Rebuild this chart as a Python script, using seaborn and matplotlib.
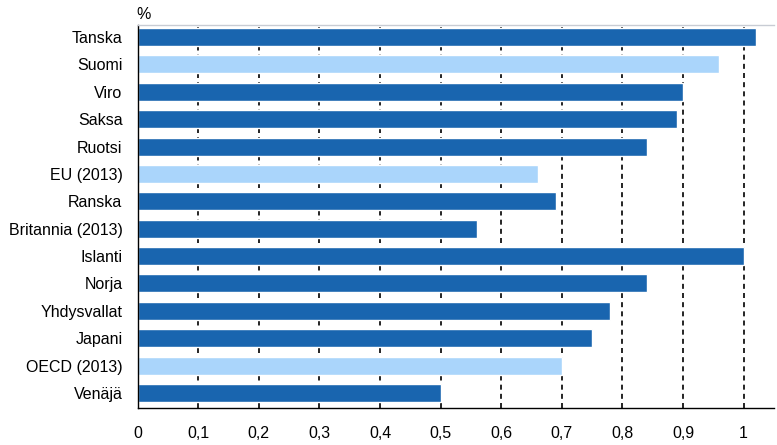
import matplotlib
matplotlib.use("Agg")
import matplotlib.pyplot as plt
import seaborn as sns
import pandas as pd

maat = ["Tanska", "Suomi", "Viro", "Saksa", "Ruotsi", "EU (2013)", "Ranska",
        "Britannia (2013)", "Islanti", "Norja", "Yhdysvallat", "Japani",
        "OECD (2013)", "Venäjä"]
osuus = [1.02, 0.96, 0.90, 0.89, 0.84, 0.66, 0.69, 0.56, 1.00, 0.84, 0.78,
         0.75, 0.70, 0.50]
ryhma = ["muu", "korostus", "muu", "muu", "muu", "korostus", "muu", "muu",
         "muu", "muu", "muu", "muu", "korostus", "muu"]
xtick_arvot = [0, 0.1, 0.2, 0.3, 0.4, 0.5, 0.6, 0.7, 0.8, 0.9, 1.0]
xtick_tekstit = ["0", "0,1", "0,2", "0,3", "0,4", "0,5", "0,6", "0,7", "0,8",
                 "0,9", "1"]

df = pd.DataFrame({"maa": maat, "osuus": osuus, "ryhma": ryhma})

sns.set_style("white")
plt.rcParams["font.family"] = ["Liberation Sans", "DejaVu Sans"]
plt.rcParams["text.color"] = "black"
plt.rcParams["xtick.color"] = "black"
plt.rcParams["ytick.color"] = "black"

fig = plt.figure(figsize=(7.77, 4.45), dpi=100)
ax = fig.add_axes([0.1772, 0.0825, 0.8188, 0.8613])

sns.barplot(data=df, x="osuus", y="maa", hue="ryhma", dodge=False,
            palette={"muu": "#1965af", "korostus": "#aad5fb"},
            width=0.66, saturation=1, legend=False, ax=ax)

ax.set_xlim(0, 1.05)
ax.set_ylim(13.56, -0.44)
ax.set_xticks(xtick_arvot)
ax.set_xticklabels(xtick_tekstit, fontsize=11.5)
ax.tick_params(axis="y", labelsize=11.5, length=0, pad=11, labelcolor="black")
ax.tick_params(axis="x", length=0, pad=13, labelcolor="black")
ax.set_xlabel("")
ax.set_ylabel("")

for v in xtick_arvot[1:]:
    ax.axvline(v, color="black", linestyle=(0, (3, 2.5)), linewidth=1.2, zorder=0)

for s in ["left", "bottom"]:
    ax.spines[s].set_color("black")
    ax.spines[s].set_linewidth(1.0)
ax.spines["right"].set_visible(False)
ax.spines["top"].set_color("#c8ccd4")
ax.spines["top"].set_linewidth(1.0)

fig.text(0.176, 0.968, "%", fontsize=11.5, ha="left", va="center")

fig.savefig("out.png", dpi=100)
